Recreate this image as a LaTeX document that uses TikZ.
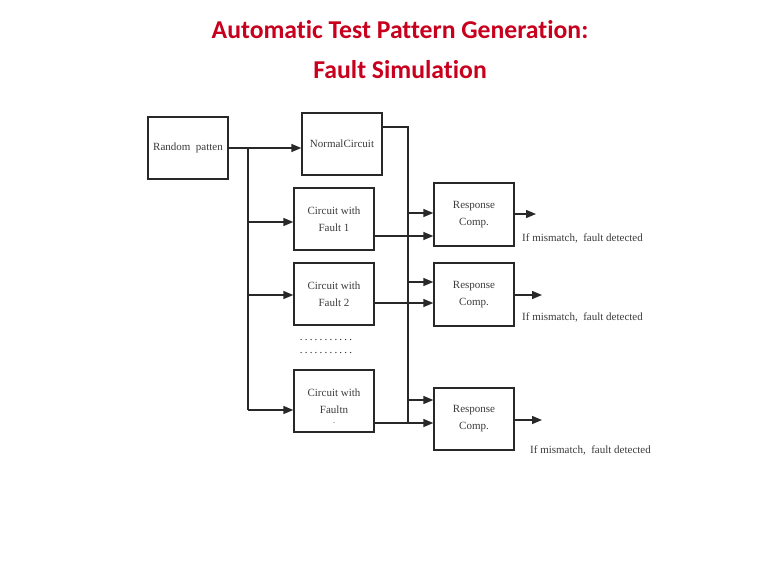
\documentclass[tikz,border=0pt]{standalone}
\usepackage{fontspec}
\setmainfont{Liberation Serif}
\newfontfamily\titlefont[Ligatures=NoCommon]{Carlito}
\usetikzlibrary{arrows.meta}
\definecolor{titlered}{RGB}{200,0,30}
\definecolor{ink}{RGB}{40,40,40}
\definecolor{label}{RGB}{60,60,60}
\newcommand\dotrow{.\kern2.2pt.\kern2.2pt.\kern2.2pt.\kern2.2pt.\kern2.2pt.\kern2.2pt.\kern2.2pt.\kern2.2pt.\kern2.2pt.\kern2.2pt.}
\begin{document}
\begin{tikzpicture}[x=1pt,y=-1pt,
  blk/.style={draw=ink,line width=1.4pt,minimum width=80pt,minimum height=62pt,
    inner sep=0pt,align=center,font=\fontsize{11}{17}\selectfont,text=label},
  wire/.style={draw=ink,line width=1.4pt},
  arr/.style={wire,-{Triangle[length=10pt,width=8pt]}},
  note/.style={font=\fontsize{11}{13}\selectfont,text=label,anchor=west,inner sep=0pt}]
\useasboundingbox (0,0) rectangle (767,576);
\fill[white] (0,0) rectangle (767,576);

% heading
\node[font=\titlefont\bfseries\fontsize{25.7}{40}\selectfont,text=titlered,align=center]
  (title) at (400,50) {Automatic Test Pattern Generation:\\Fault Simulation};

% blocks
\node[blk] (rand) at (188,148) {Random\ \ patten};
\node[blk] (norm) at (342,144) {NormalCircuit};
\node[blk] (f1) at (334,219) {Circuit with\\Fault 1};
\node[blk] (f2) at (334,294) {Circuit with\\Fault 2};
\node[blk] (fn) at (334,401) {Circuit with\\Faultn};
\node[font=\fontsize{8}{8}\selectfont,text=label,inner sep=0pt] (fndot) at (334,423) {.};
\node[blk,minimum height=63pt] (r1) at (474,214.5) {Response\\Comp.};
\node[blk,minimum height=63pt] (r2) at (474,294.5) {Response\\Comp.};
\node[blk,minimum height=62pt] (r3) at (474,419) {Response\\Comp.};

% ellipsis rows between fault blocks
\node[font=\fontsize{11}{12}\selectfont,text=ink,inner sep=0pt] (dots1) at (326,340) {\dotrow};
\node[font=\fontsize{11}{12}\selectfont,text=ink,inner sep=0pt] (dots2) at (326,353) {\dotrow};

% pattern distribution
\coordinate (split) at (248,148);
\coordinate (tbot) at (248,410);
\draw[arr] (rand.east |- split) -- (norm.west |- split);
\draw[wire] (split) -- (tbot);
\draw[arr] (248,222) -- (f1.west |- 0,222);
\draw[arr] (248,295) -- (f2.west |- 0,295);
\draw[arr] (tbot) -- (fn.west |- tbot);

% good-circuit response bus
\coordinate (nout) at (408,127);
\coordinate (nbot) at (408,423);
\draw[wire] (norm.east |- nout) -- (nout) -- (nbot);
\draw[arr] (408,213) -- (r1.west |- 0,213);
\draw[arr] (408,282) -- (r2.west |- 0,282);
\draw[arr] (408,400) -- (r3.west |- 0,400);

% faulty responses
\draw[arr] (f1.east |- 0,236) -- (r1.west |- 0,236);
\draw[arr] (f2.east |- 0,303) -- (r2.west |- 0,303);
\draw[arr] (fn.east |- nbot) -- (r3.west |- nbot);

% comparator outputs
\coordinate (o1) at (536,214);
\coordinate (o2) at (542,295);
\coordinate (o3) at (542,420);
\draw[arr] (r1.east |- o1) -- (o1);
\draw[arr] (r2.east |- o2) -- (o2);
\draw[arr] (r3.east |- o3) -- (o3);

\node[note] (m1) at (522,238) {If mismatch,\ \ fault detected};
\node[note] (m2) at (522,317) {If mismatch,\ \ fault detected};
\node[note] (m3) at (530,450) {If mismatch,\ \ fault detected};
\end{tikzpicture}
\end{document}
